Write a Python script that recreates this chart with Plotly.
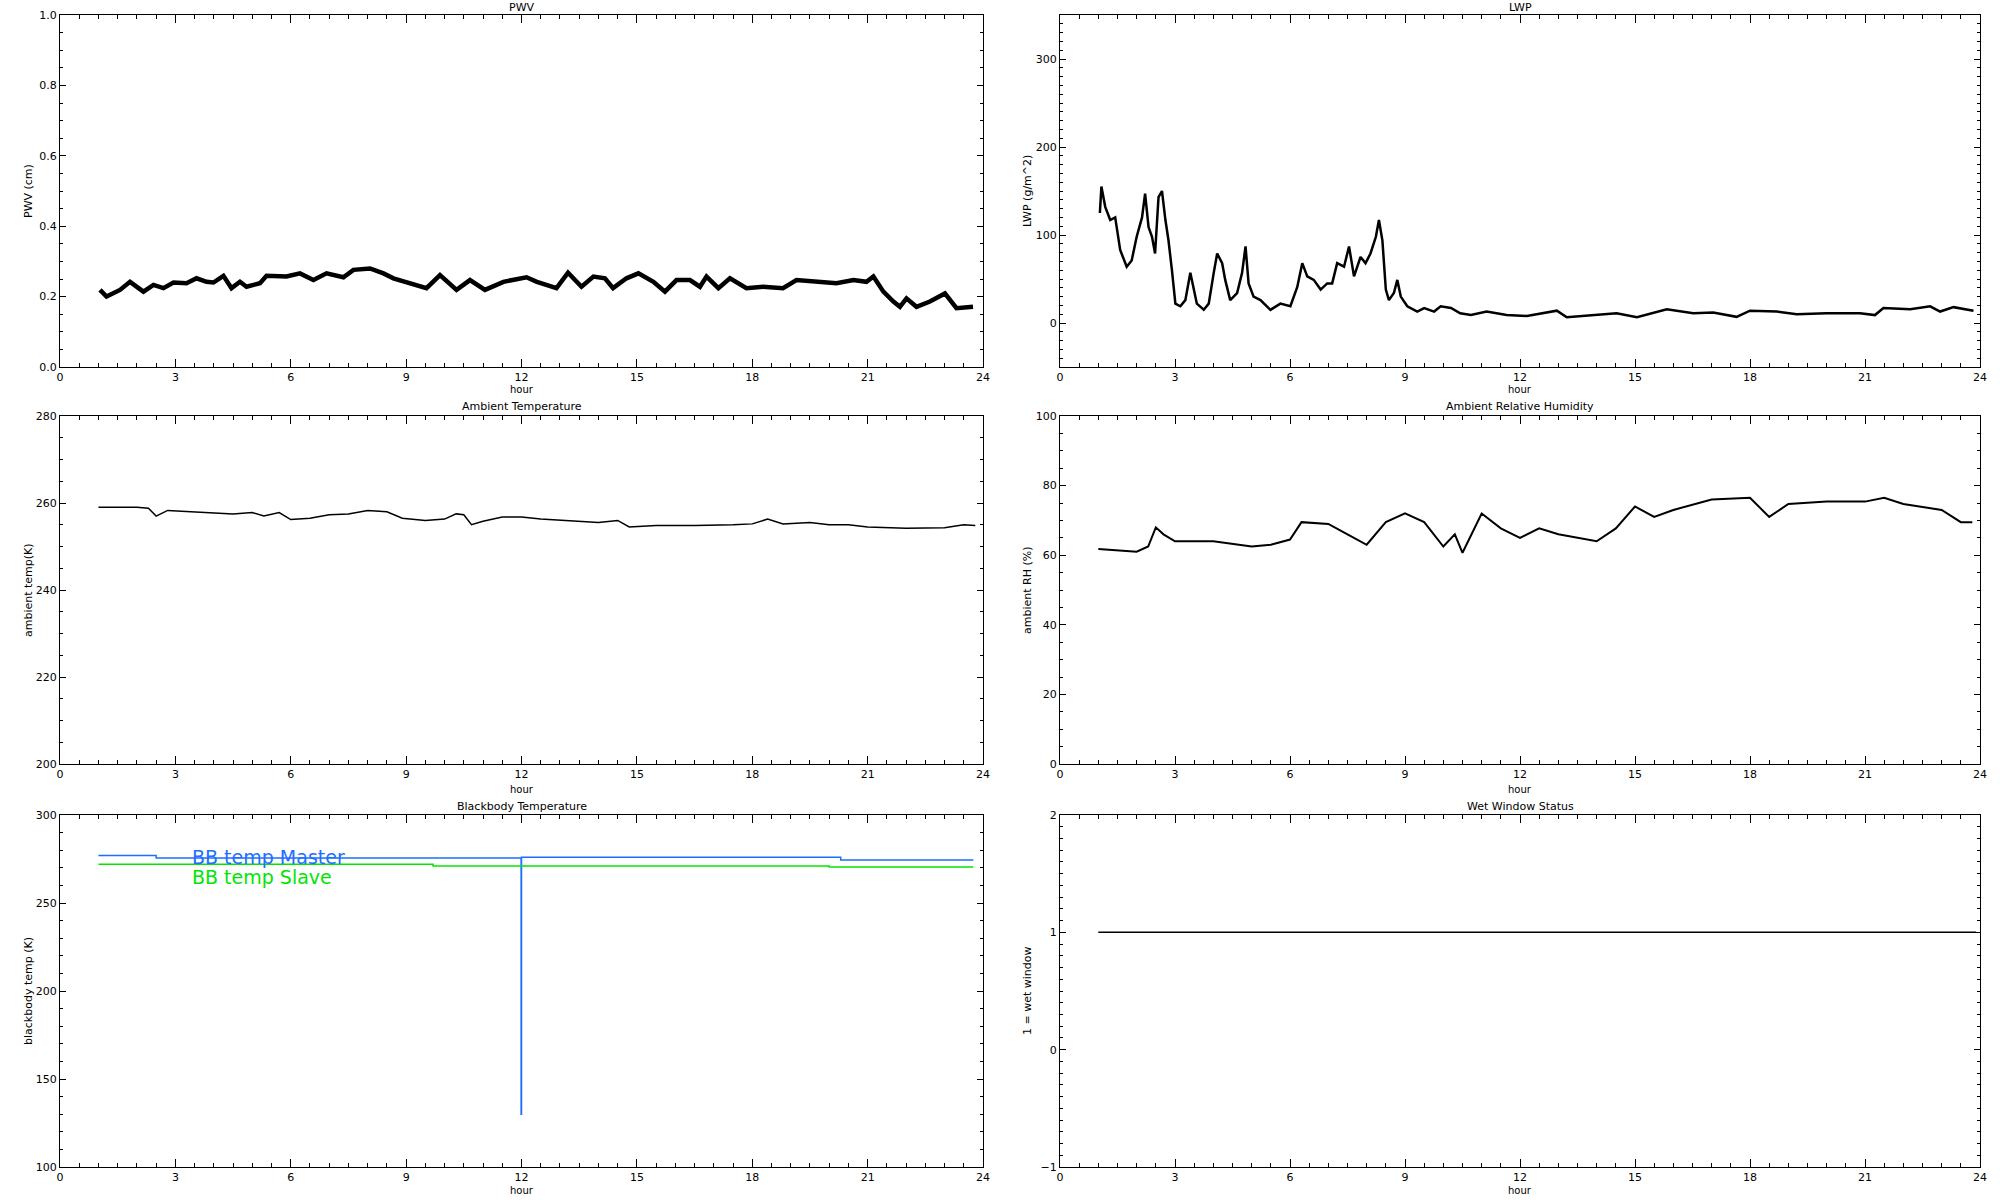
import plotly.graph_objects as go
from plotly.subplots import make_subplots

PRETO = "#000000"
AZUL = "#1e6eff"
VERDE = "#00e600"
FONTE = "DejaVu Sans"

# ---- PWV (cm)
pwv_hora = [1.04, 1.21, 1.56, 1.82, 2.17, 2.43, 2.69, 2.95, 3.29, 3.55, 3.81, 3.99,
            4.25, 4.46, 4.68, 4.85, 5.20, 5.37, 5.89, 6.24, 6.59, 6.93, 7.37, 7.63,
            8.06, 8.41, 8.67, 9.10, 9.53, 9.88, 10.31, 10.66, 11.05, 11.53, 11.96, 12.13,
            12.40, 12.91, 13.21, 13.56, 13.87, 14.17, 14.38, 14.73, 15.04, 15.43, 15.73,
            16.03, 16.38, 16.64, 16.81, 17.12, 17.42, 17.85, 18.28, 18.80, 19.15, 19.76,
            20.19, 20.63, 20.97, 21.15, 21.41, 21.67, 21.84, 22.01, 22.27, 22.62, 23.01,
            23.31, 23.74]
pwv_valor = [0.219, 0.200, 0.219, 0.242, 0.214, 0.233, 0.224, 0.240, 0.238, 0.252, 0.242, 0.240,
             0.259, 0.224, 0.242, 0.228, 0.238, 0.259, 0.257, 0.266, 0.247, 0.266, 0.255, 0.276,
             0.280, 0.266, 0.252, 0.238, 0.224, 0.261, 0.219, 0.247, 0.219, 0.242, 0.252, 0.255,
             0.242, 0.224, 0.268, 0.228, 0.257, 0.252, 0.224, 0.252, 0.266, 0.242, 0.214,
             0.247, 0.247, 0.228, 0.257, 0.224, 0.252, 0.224, 0.228, 0.224, 0.247, 0.242,
             0.238, 0.247, 0.242, 0.257, 0.214, 0.186, 0.171, 0.195, 0.171, 0.186, 0.209,
             0.167, 0.171]

# ---- LWP (g/m^2)
lwp_hora = [1.04, 1.08, 1.18, 1.31, 1.44, 1.57, 1.74, 1.87, 2.00, 2.14, 2.22, 2.31, 2.40,
            2.48, 2.57, 2.66, 2.75, 2.83, 2.92, 3.01, 3.14, 3.27, 3.40, 3.49, 3.57, 3.75,
            3.88, 4.01, 4.10, 4.23, 4.31, 4.44, 4.62, 4.75, 4.84, 4.92, 5.05, 5.23, 5.49,
            5.75, 6.01, 6.19, 6.32, 6.45, 6.62, 6.80, 6.97, 7.10, 7.23, 7.41, 7.54, 7.67,
            7.84, 7.97, 8.10, 8.24, 8.32, 8.41, 8.50, 8.58, 8.71, 8.80, 8.89, 9.06, 9.32,
            9.50, 9.76, 9.93, 10.20, 10.44, 10.72, 11.13, 11.65, 12.18, 12.96, 13.22,
            13.91, 14.52, 15.05, 15.83, 16.52, 17.04, 17.65, 18.00, 18.70, 19.22, 20.00,
            20.87, 21.26, 21.48, 22.18, 22.70, 22.96, 23.31, 23.83]
lwp_valor = [125, 155, 132, 117, 120, 83, 64, 71, 98, 120, 147, 109, 98,
             79, 143, 150, 117, 94, 60, 22, 19, 26, 57, 38, 22, 15,
             22, 57, 79, 68, 49, 26, 34, 57, 87, 45, 30, 26, 15,
             22, 19, 41, 68, 53, 49, 38, 45, 45, 68, 64, 87, 53,
             75, 68, 79, 98, 117, 94, 38, 26, 34, 49, 30, 19, 13,
             17, 13, 19, 17, 11, 9, 13, 9, 8, 14, 6.5,
             9, 11, 6.5, 15.5, 11, 12, 7, 14, 13, 10, 11,
             11, 9, 17, 15.5, 19, 13, 18, 14]

# ---- Ambient temperature (K)
temp_hora = [1.0, 2.0, 2.3, 2.5, 2.8, 3.5, 4.5, 5.0, 5.3, 5.7, 6.0, 6.5, 7.0, 7.5, 8.0,
             8.5, 8.9, 9.5, 10.0, 10.3, 10.5, 10.7, 11.0, 11.5, 12.0, 12.5, 13.0, 13.5,
             14.0, 14.5, 14.8, 15.5, 16.5, 17.5, 18.0, 18.4, 18.8, 19.5, 20.0, 20.5,
             21.0, 22.0, 23.0, 23.5, 23.8]
temp_valor = [259.0, 259.0, 258.8, 257.0, 258.3, 258.0, 257.5, 257.8, 257.0, 257.8, 256.2,
              256.5, 257.3, 257.5, 258.3, 258.0, 256.5, 256.0, 256.3, 257.5, 257.3, 255.0,
              255.8, 256.8, 256.8, 256.3, 256.0, 255.8, 255.5, 256.0, 254.5, 254.8, 254.8,
              255.0, 255.2, 256.3, 255.2, 255.5, 255.0, 255.0, 254.5, 254.2, 254.3, 255.0,
              254.8]

# ---- Ambient RH (%)
rh_hora = [1.0, 1.5, 2.0, 2.3, 2.5, 2.7, 3.0, 4.0, 5.0, 5.5, 6.0, 6.3, 7.0, 7.5, 8.0,
           8.5, 9.0, 9.5, 10.0, 10.3, 10.5, 11.0, 11.5, 12.0, 12.5, 13.0, 14.0, 14.5,
           15.0, 15.5, 16.0, 17.0, 18.0, 18.5, 19.0, 20.0, 21.0, 21.5, 22.0, 23.0,
           23.5, 23.8]
rh_valor = [61.8, 61.5, 61.0, 62.5, 68.0, 66.0, 64.0, 64.0, 62.5, 63.0, 64.5, 69.5, 69.0,
            66.0, 63.0, 69.5, 72.0, 69.5, 62.5, 66.0, 60.7, 72.0, 67.7, 65.0, 67.7, 66.0,
            64.0, 67.7, 74.0, 71.0, 73.0, 76.0, 76.5, 71.0, 74.7, 75.4, 75.4, 76.5, 74.7,
            73.0, 69.5, 69.5]

# ---- Blackbody temperature (K)
bb_master_hora = [1.0, 2.5, 11.99, 12.0, 20.3, 23.75]
bb_master_valor = [277.0, 275.5, 130.0, 276.0, 274.5, 274.5]
bb_slave_hora = [1.0, 9.7, 20.0, 23.75]
bb_slave_valor = [272.0, 271.0, 270.5, 270.5]

# ---- Wet window status
wet_hora = [1.0, 23.9]
wet_valor = [1, 1]

# panel layout: (title, y title, y range, dtick, minor dtick, tickformat)
PAINEIS = [
    ("PWV", "PWV (cm)", [0, 1], 0.2, 0.05, ".1f"),
    ("LWP", "LWP (g/m^2)", [-50, 350], 100, 10, "d"),
    ("Ambient Temperature", "ambient temp(K)", [200, 280], 20, 5, "d"),
    ("Ambient Relative Humidity", "ambient RH (%)", [0, 100], 20, 5, "d"),
    ("Blackbody Temperature", "blackbody temp (K)", [100, 300], 50, 10, "d"),
    ("Wet Window Status", "1 = wet window", [-1, 2], 1, 0.1, "d"),
]

W, H = 2000, 1200
COL_X = [(60, 983), (1060, 1980)]
ROW_Y = [(15, 367), (416, 764), (815, 1167)]
TITLE_Y = [7, 406, 806]
HOUR_Y = [390, 789, 1190]
YTITLE_X = [28, 1027]


def px(v):
    return v / W


def py(v):
    return 1 - v / H


fig = make_subplots(rows=3, cols=2)

fig.add_trace(go.Scatter(x=pwv_hora, y=pwv_valor, mode="lines",
                         line=dict(color=PRETO, width=4.5)), row=1, col=1)
fig.add_trace(go.Scatter(x=lwp_hora, y=lwp_valor, mode="lines",
                         line=dict(color=PRETO, width=2.5)), row=1, col=2)
fig.add_trace(go.Scatter(x=temp_hora, y=temp_valor, mode="lines",
                         line=dict(color=PRETO, width=1.5)), row=2, col=1)
fig.add_trace(go.Scatter(x=rh_hora, y=rh_valor, mode="lines",
                         line=dict(color=PRETO, width=2)), row=2, col=2)
fig.add_trace(go.Scatter(x=bb_master_hora, y=bb_master_valor, mode="lines",
                         line=dict(color=AZUL, width=1.5, shape="hv")), row=3, col=1)
fig.add_trace(go.Scatter(x=bb_slave_hora, y=bb_slave_valor, mode="lines",
                         line=dict(color=VERDE, width=1.5, shape="hv")), row=3, col=1)
fig.add_trace(go.Scatter(x=wet_hora, y=wet_valor, mode="lines",
                         line=dict(color=PRETO, width=1.5)), row=3, col=2)

anotacoes = []
for i, (titulo, ytitulo, yrange, dtick, minor, fmt) in enumerate(PAINEIS):
    r, c = divmod(i, 2)
    x0, x1 = COL_X[c]
    y0, y1 = ROW_Y[r]
    n = "" if i == 0 else str(i + 1)
    fig.layout["xaxis" + n].update(
        domain=[px(x0), px(x1)], range=[0, 24], tickmode="linear", tick0=0, dtick=3,
        ticks="inside", ticklen=8, tickwidth=1, tickcolor=PRETO,
        minor=dict(dtick=0.5, ticks="inside", ticklen=4, tickcolor=PRETO),
        showline=True, linecolor=PRETO, linewidth=1, mirror="allticks",
        showgrid=False, zeroline=False, automargin=False,
        tickfont=dict(family=FONTE, size=11, color=PRETO),
    )
    fig.layout["yaxis" + n].update(
        domain=[py(y1), py(y0)], range=yrange, tickmode="linear",
        tick0=0, dtick=dtick, tickformat=fmt,
        ticks="inside", ticklen=6, tickwidth=1, tickcolor=PRETO,
        minor=dict(dtick=minor, ticks="inside", ticklen=3, tickcolor=PRETO),
        showline=True, linecolor=PRETO, linewidth=1, mirror="allticks",
        showgrid=False, zeroline=False, automargin=False,
        tickfont=dict(family=FONTE, size=11, color=PRETO),
    )
    xm = px((x0 + x1) / 2)
    anotacoes.append(dict(text=titulo, x=xm, y=py(TITLE_Y[r]), xref="paper", yref="paper",
                          showarrow=False, xanchor="center", yanchor="middle",
                          font=dict(family=FONTE, size=11, color=PRETO)))
    anotacoes.append(dict(text="hour", x=xm, y=py(HOUR_Y[r]), xref="paper", yref="paper",
                          showarrow=False, xanchor="center", yanchor="middle",
                          font=dict(family=FONTE, size=10, color=PRETO)))
    anotacoes.append(dict(text=ytitulo, x=px(YTITLE_X[c]), y=py((y0 + y1) / 2),
                          xref="paper", yref="paper", textangle=-90,
                          showarrow=False, xanchor="center", yanchor="middle",
                          font=dict(family=FONTE, size=11, color=PRETO)))

# legend text inside the blackbody panel
anotacoes.append(dict(text="BB temp Master", x=3.38, y=276, xref="x5", yref="y5",
                      showarrow=False, xanchor="left", yanchor="middle",
                      font=dict(family=FONTE, size=19, color=AZUL)))
anotacoes.append(dict(text="BB temp Slave", x=3.38, y=264.8, xref="x5", yref="y5",
                      showarrow=False, xanchor="left", yanchor="middle",
                      font=dict(family=FONTE, size=19, color=VERDE)))

fig.update_layout(
    width=W, height=H, autosize=False,
    plot_bgcolor="white", paper_bgcolor="white",
    margin=dict(t=0, b=0, l=0, r=0),
    showlegend=False,
    annotations=anotacoes,
    font=dict(family=FONTE, color=PRETO),
)

# drop the browser's default body margin so the figure starts at the page corner
fig.write_html("out.html", config={"displayModeBar": False},
               post_script="document.body.style.margin = '0';")
